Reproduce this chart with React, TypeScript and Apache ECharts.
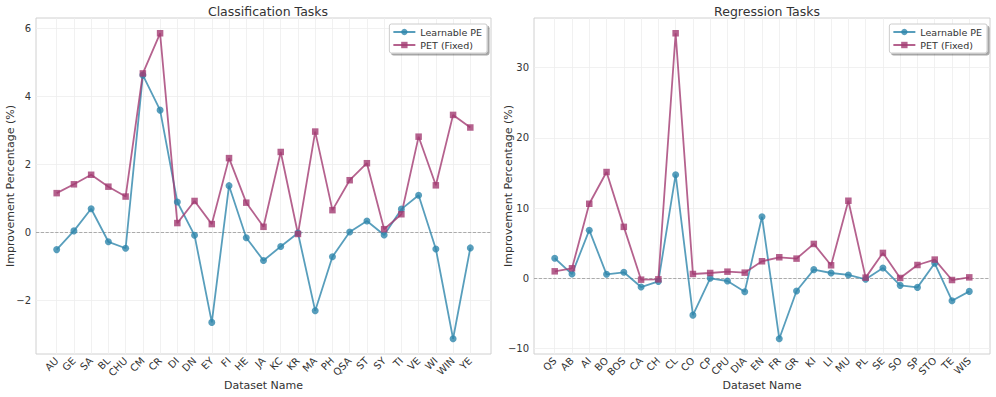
import React, { useEffect, useRef } from "react";
import * as echarts from "echarts";

const clsCategories = ["AU","GE","SA","BL","CHU","CM","CR","DI","DN","EY","FI","HE","JA","KC","KR","MA","PH","QSA","ST","SY","TI","VE","WI","WIN","YE"];
const clsLearnable = [-0.51,0.04,0.69,-0.28,-0.47,4.62,3.59,0.89,-0.09,-2.65,1.37,-0.16,-0.83,-0.42,-0.02,-2.31,-0.72,0.01,0.33,-0.08,0.68,1.09,-0.49,-3.13,-0.46];
const clsPET = [1.15,1.41,1.69,1.34,1.05,4.67,5.85,0.27,0.92,0.24,2.18,0.87,0.16,2.36,-0.05,2.96,0.65,1.53,2.03,0.09,0.53,2.81,1.38,3.45,3.08];

const regCategories = ["QS","AB","AI","BO","BOS","CA","CH","CL","CO","CP","CPU","DIA","EN","FR","GR","KI","LI","MU","PL","SE","SO","SP","STO","TE","WIS"];
const regLearnable = [2.86,0.61,6.86,0.57,0.86,-1.24,-0.43,14.76,-5.24,0.0,-0.38,-1.9,8.76,-8.6,-1.81,1.24,0.76,0.48,-0.14,1.48,-1.0,-1.29,2.14,-3.19,-1.86];
const regPET = [1.0,1.43,10.62,15.14,7.33,-0.19,-0.14,34.9,0.62,0.76,0.95,0.81,2.43,3.0,2.81,4.9,1.86,11.05,0.1,3.62,0.05,1.9,2.67,-0.24,0.14];

const clsYTicks = [-2, 0, 2, 4, 6];
const regYTicks = [-10, 0, 10, 20, 30];

const seriesNames = ["Learnable PE", "PET (Fixed)"];
const FONT = "DejaVu Sans";
const BLUE = "#2E86AB";
const PINK = "#A23B72";

function extent(a: number[], b: number[]) {
  const all = a.concat(b);
  const lo = Math.min(...all);
  const hi = Math.max(...all);
  const m = (hi - lo) * 0.05;
  return [lo - m, hi + m];
}

const fmtNum = (v: number) => (v < 0 ? "\u2212" + Math.abs(v) : String(v));

export default function App() {
  const ref = useRef<HTMLDivElement>(null);
  useEffect(() => {
    document.body.style.margin = "0";
    if (!ref.current) return;
    const chart = echarts.init(ref.current, null, { renderer: "svg" });
    const n = clsCategories.length;
    const xIdx = clsCategories.map((_, i) => i);
    const xPad = (n - 1) * 0.05;
    const ce = extent(clsLearnable, clsPET);
    const re = extent(regLearnable, regPET);

    const mkX = (gi: number, cats: string[]) => ({
      type: "value",
      gridIndex: gi,
      min: -xPad,
      max: n - 1 + xPad,
      name: "Dataset Name",
      nameLocation: "middle",
      nameGap: 26,
      nameMoveOverlap: false,
      nameTextStyle: { fontFamily: FONT, fontSize: 11, color: "#333" },
      axisLine: { show: false },
      axisTick: { show: false, customValues: xIdx },
      axisLabel: {
        customValues: xIdx,
        rotate: 45,
        fontFamily: FONT,
        fontSize: 10,
        color: "#333",
        margin: 5,
        formatter: (v: number) => cats[Math.round(v)] ?? "",
      },
      splitLine: { show: true, lineStyle: { color: "#ededed", width: 0.8 } },
    });
    const mkY = (gi: number, ext: number[], ticks: number[]) => ({
      type: "value",
      gridIndex: gi,
      min: ext[0],
      max: ext[1],
      name: "Improvement Percentage (%)",
      nameLocation: "middle",
      nameGap: 20,
      nameMoveOverlap: false,
      nameTextStyle: { fontFamily: FONT, fontSize: 11, color: "#333" },
      axisLine: { show: false },
      axisTick: { show: false, customValues: ticks },
      axisLabel: {
        customValues: ticks,
        fontFamily: FONT,
        fontSize: 10,
        color: "#333",
        margin: 5,
        formatter: (v: number) => fmtNum(v),
      },
      splitLine: { show: true, lineStyle: { color: "#ededed", width: 0.8 } },
    });

    const mkSeries = (gi: number, vals: number[], name: string, color: string, symbol: string, size: number, zero: boolean) => ({
      type: "line",
      name,
      xAxisIndex: gi,
      yAxisIndex: gi,
      data: vals.map((v, i) => [i, v]),
      symbol,
      symbolSize: size,
      showAllSymbol: true,
      lineStyle: { color, width: 1.8, opacity: 0.8 },
      itemStyle: { color, opacity: 0.8 },
      z: 3,
      markLine: zero
        ? {
            silent: true,
            symbol: "none",
            label: { show: false },
            lineStyle: { color: "#999", type: "dashed", width: 0.8 },
            data: [{ yAxis: 0 }],
            z: 1,
          }
        : undefined,
    });

    const legendBase = {
      orient: "vertical",
      top: 24,
      itemWidth: 22,
      itemHeight: 8,
      itemGap: 3,
      padding: [3, 5, 3, 3],
      backgroundColor: "#fff",
      borderColor: "#ccc",
      borderWidth: 1,
      borderRadius: 2,
      shadowColor: "rgba(0,0,0,0.35)",
      shadowOffsetX: 2,
      shadowOffsetY: 2,
      shadowBlur: 1,
      textStyle: { fontFamily: FONT, fontSize: 9.5, color: "#333" },
      data: seriesNames,
    };

    chart.setOption({
      animation: false,
      backgroundColor: "#fff",
      title: [
        { text: "Classification Tasks", left: 263, top: 0, textAlign: "center", textStyle: { fontFamily: FONT, fontSize: 12.5, fontWeight: "normal", color: "#333" } },
        { text: "Regression Tasks", left: 762, top: 0, textAlign: "center", textStyle: { fontFamily: FONT, fontSize: 12.5, fontWeight: "normal", color: "#333" } },
      ],
      legend: [
        { ...legendBase, right: 509 },
        { ...legendBase, right: 9 },
      ],
      grid: [
        { left: 36, top: 18, width: 455, height: 336, show: true, borderColor: "#d0d0d0", borderWidth: 1, backgroundColor: "transparent", outerBoundsMode: "none" },
        { left: 534, top: 18, width: 456, height: 336, show: true, borderColor: "#d0d0d0", borderWidth: 1, backgroundColor: "transparent", outerBoundsMode: "none" },
      ],
      xAxis: [mkX(0, clsCategories), mkX(1, regCategories)],
      yAxis: [mkY(0, ce, clsYTicks), mkY(1, re, regYTicks)],
      series: [
        mkSeries(0, clsLearnable, seriesNames[0], BLUE, "circle", 7, true),
        mkSeries(0, clsPET, seriesNames[1], PINK, "rect", 6.5, false),
        mkSeries(1, regLearnable, seriesNames[0], BLUE, "circle", 7, true),
        mkSeries(1, regPET, seriesNames[1], PINK, "rect", 6.5, false),
      ],
    });
    return () => chart.dispose();
  }, []);
  return <div ref={ref} style={{ position: "fixed", left: 0, top: 0, width: 996, height: 397 }} />;
}
